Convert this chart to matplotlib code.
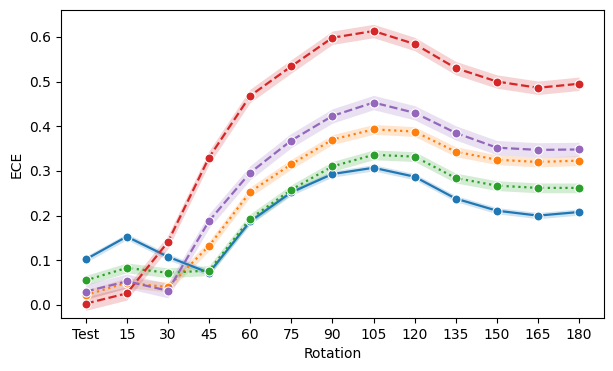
import numpy as np
import matplotlib.pyplot as plt

rotations = ['Test', '15', '30', '45', '60', '75', '90', '105', '120', '135', '150', '165', '180']

blue = [0.102, 0.153, 0.108, 0.072, 0.187, 0.252, 0.293, 0.307, 0.287, 0.238, 0.211, 0.200, 0.208]
orange = [0.022, 0.050, 0.040, 0.132, 0.253, 0.315, 0.370, 0.393, 0.388, 0.343, 0.325, 0.320, 0.323]
green = [0.055, 0.083, 0.072, 0.077, 0.193, 0.258, 0.310, 0.336, 0.332, 0.284, 0.267, 0.262, 0.262]
red = [0.003, 0.026, 0.141, 0.330, 0.468, 0.534, 0.598, 0.613, 0.584, 0.530, 0.500, 0.486, 0.495]
purple = [0.030, 0.053, 0.032, 0.188, 0.296, 0.368, 0.423, 0.453, 0.430, 0.385, 0.352, 0.347, 0.348]

# approximate half-width of the shaded confidence bands
spread_blue = 0.007
spread_orange = 0.011
spread_green = 0.011
spread_red = 0.015
spread_purple = 0.016

series = [
    (blue, spread_blue, '#1f77b4', '-'),
    (orange, spread_orange, '#ff7f0e', ':'),
    (green, spread_green, '#2ca02c', ':'),
    (red, spread_red, '#d62728', '--'),
    (purple, spread_purple, '#9467bd', '--'),
]

fig, ax = plt.subplots(figsize=(6.13, 3.71), dpi=100)
fig.subplots_adjust(left=0.0995, right=0.985, top=0.973, bottom=0.143)

x = np.arange(len(rotations))
for vals, spread, color, ls in series:
    vals = np.array(vals)
    ax.fill_between(x, vals - spread, vals + spread, color=color, alpha=0.2, linewidth=0)
    ax.plot(x, vals, color=color, linestyle=ls, linewidth=1.6, marker='o',
            markersize=6.5, markeredgecolor='white', markeredgewidth=0.8)

ax.set_xticks(x)
ax.set_xticklabels(rotations)
ax.set_xlim(-0.6, len(rotations) - 0.4)
ax.set_ylim(-0.029, 0.66)
ax.set_xlabel('Rotation')
ax.set_ylabel('ECE')

plt.savefig('out.png')
